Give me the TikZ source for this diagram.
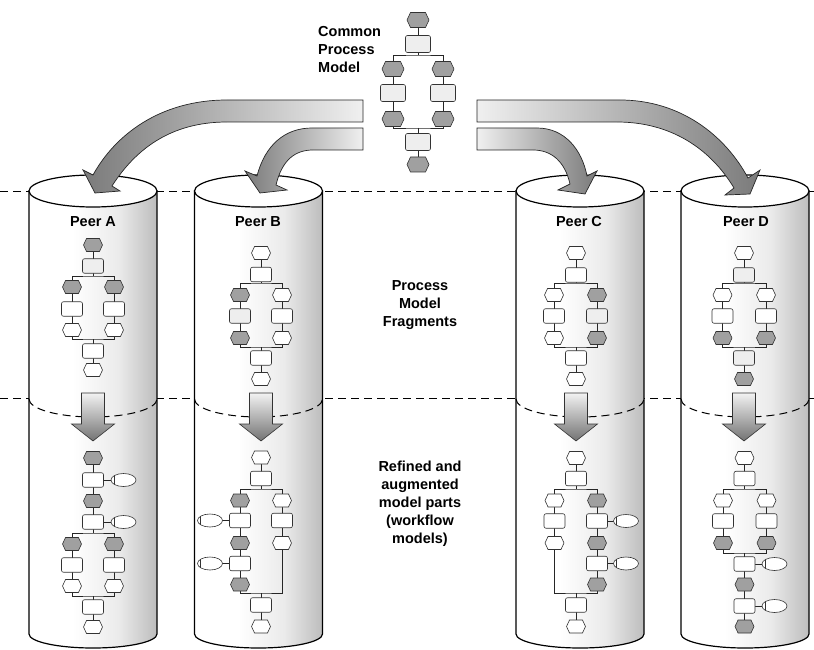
\documentclass[tikz,border=0pt]{standalone}
\usepackage{fontspec}
\setmainfont{Liberation Sans}
\usetikzlibrary{shapes.geometric,shapes.symbols}
\definecolor{darkf}{HTML}{A0A0A0}
\definecolor{lightf}{HTML}{EEEEEE}
\pgfdeclarehorizontalshading{cylshade}{100bp}{color(0bp)=(white); color(25bp)=(white);
  color(42bp)=(white); color(60bp)=(black!8); color(75bp)=(black!26); color(100bp)=(black!26)}
\pgfdeclarelayer{back}
\pgfdeclarelayer{links}
\pgfsetlayers{back,links,main}
\tikzset{
  hexbase/.style={signal, signal to=east and west, signal pointer angle=130,
    draw=black!80, line width=0.6pt, inner sep=0pt, minimum width=19pt, minimum height=13pt},
  hexD/.style={hexbase, fill=darkf},
  hexW/.style={hexbase, fill=white},
  recbase/.style={rectangle, rounded corners=2pt, draw=black!80, line width=0.6pt,
    inner sep=0pt, minimum width=21pt, minimum height=14.5pt},
  recL/.style={recbase, fill=lightf},
  recW/.style={recbase, fill=white},
  bigH/.style={minimum width=22pt, minimum height=15pt},
  bigR/.style={minimum width=25pt, minimum height=17pt},
  evt/.style={ellipse, draw=black!80, fill=white, line width=0.6pt, inner sep=0pt,
    minimum width=25pt, minimum height=13pt,
    path picture={\draw[black!80, line width=0.6pt]
      ([xshift=3pt]path picture bounding box.north west) --
      ([xshift=3pt]path picture bounding box.south west);}},
  conn/.style={draw=black!85, line width=0.7pt},
  lbl/.style={font=\fontsize{14.5}{18}\selectfont\bfseries, inner sep=0pt, align=center},
  carrow/.style={draw=black!85, line width=0.7pt},
  dash line/.style={draw=black, line width=1pt, dash pattern=on 8pt off 5pt}
}
\newcommand\mycyl[1]{%
  \path[shading=cylshade, draw=black, line width=1.2pt]
    (#1-64,191) -- (#1-64,634) arc[start angle=180, end angle=360, x radius=64pt, y radius=14pt]
    -- (#1+64,191) -- cycle;
  \path[fill=white, draw=black, line width=1.2pt] (#1,191) ellipse [x radius=64pt, y radius=16pt];
  \path[dash line] (#1-64,399) arc[start angle=180, end angle=360, x radius=64pt, y radius=18pt];
}
\newcommand\dnarrow[1]{%
  \path[draw=black!80, line width=0.6pt, top color=black!5, bottom color=black!55]
    (#1-11.5,393) -- (#1+11.5,393) -- (#1+11.5,424) -- (#1+21.5,424) -- (#1,441)
    -- (#1-21.5,424) -- (#1-11.5,424) -- cycle;
}
\newcommand\fragconn[6]{%
  \draw[conn] (#1.center) -- (#2);
  \draw[conn] (#3.center) |- (#2) -| (#4.center);
  \draw[conn] (#3.center) |- (#5) -| (#4.center);
  \draw[conn] (#5) -- (#6.center);
}
\begin{document}
\begin{tikzpicture}[x=1pt,y=-1pt]
\useasboundingbox (0,0) rectangle (814,650);

\begin{pgfonlayer}{back}
  \path[dash line] (0,191) -- (814,191);
  \path[dash line] (0,398) -- (814,398);
  \mycyl{93}
  \mycyl{258.5}
  \mycyl{580}
  \mycyl{745}
  \dnarrow{93}
  \dnarrow{261}
  \dnarrow{576}
  \dnarrow{744}
\end{pgfonlayer}

% ---------- Common process model ----------
\node[hexD,bigH] (m1) at (418,20) {};
\node[recL,bigR] (m2) at (418,44) {};
\node[hexD,bigH] (ml1) at (393,69) {};
\node[recL,bigR] (ml2) at (393,93) {};
\node[hexD,bigH] (ml3) at (393,119) {};
\node[hexD,bigH] (mr1) at (443,69) {};
\node[recL,bigR] (mr2) at (443,93) {};
\node[hexD,bigH] (mr3) at (443,119) {};
\node[recL,bigR] (m3) at (418,142) {};
\node[hexD,bigH] (m4) at (418,164.5) {};
\coordinate (ms) at (418,55);
\coordinate (mj) at (418,128);

% ---------- Peer A fragment ----------
\node[hexD] (a1) at (93,245) {};
\node[recL] (a2) at (93,266) {};
\node[hexD] (al1) at (72,287) {};
\node[recW] (al2) at (72,309) {};
\node[hexW] (al3) at (72,330) {};
\node[hexD] (ar1) at (114,287) {};
\node[recW] (ar2) at (114,309) {};
\node[hexW] (ar3) at (114,330) {};
\node[recW] (a3) at (93,351) {};
\node[hexW] (a4) at (93,370) {};
\coordinate (as) at (93,276);
\coordinate (aj) at (93,339);

% ---------- Peer B fragment ----------
\node[hexW] (b1) at (261,253) {};
\node[recW] (b2) at (261,274.5) {};
\node[hexD] (bl1) at (240,295) {};
\node[recL] (bl2) at (240,316) {};
\node[hexD] (bl3) at (240,338) {};
\node[hexW] (br1) at (282,295) {};
\node[recW] (br2) at (282,316) {};
\node[hexW] (br3) at (282,338) {};
\node[recW] (b3) at (261,358) {};
\node[hexW] (b4) at (261,379) {};
\coordinate (bs) at (261,283);
\coordinate (bj) at (261,347);

% ---------- Peer C fragment ----------
\node[hexW] (c1) at (576,253) {};
\node[recW] (c2) at (576,275) {};
\node[hexW] (cl1) at (554,295) {};
\node[recW] (cl2) at (554,316) {};
\node[hexW] (cl3) at (554,338) {};
\node[hexD] (cr1) at (597,295) {};
\node[recL] (cr2) at (597,316) {};
\node[hexD] (cr3) at (597,338) {};
\node[recW] (c3) at (576,358) {};
\node[hexW] (c4) at (576,379) {};
\coordinate (cs) at (576,283);
\coordinate (cj) at (576,347);

% ---------- Peer D fragment ----------
\node[hexW] (d1) at (744,253) {};
\node[recL] (d2) at (744,275) {};
\node[hexW] (dl1) at (722.5,295) {};
\node[recW] (dl2) at (722.5,316) {};
\node[hexD] (dl3) at (722.5,338) {};
\node[hexW] (dr1) at (766,295) {};
\node[recW] (dr2) at (766,316) {};
\node[hexD] (dr3) at (766,338) {};
\node[recL] (d3) at (744,358) {};
\node[hexD] (d4) at (744,379) {};
\coordinate (ds) at (744,283);
\coordinate (dj) at (744,347);

% ---------- Peer A refined ----------
\node[hexD] (A1) at (93,458) {};
\node[recW] (A2) at (93,480) {};
\node[evt] (E1) at (123.5,480) {};
\node[hexD] (A3) at (93,501) {};
\node[recW] (A4) at (93,522) {};
\node[evt] (E2) at (123.5,522) {};
\node[hexD] (Al1) at (72,544) {};
\node[recW] (Al2) at (72,565) {};
\node[hexW] (Al3) at (72,586) {};
\node[hexD] (Ar1) at (114,544) {};
\node[recW] (Ar2) at (114,565) {};
\node[hexW] (Ar3) at (114,586) {};
\node[recW] (A5) at (93,607) {};
\node[hexW] (A6) at (93,627) {};
\coordinate (As) at (93,533);
\coordinate (Aj) at (93,596);

% ---------- Peer B refined ----------
\node[hexW] (B1) at (261,457.5) {};
\node[recW] (B2) at (261,478.5) {};
\node[hexD] (Bl1) at (240,500.5) {};
\node[recW] (Bl2) at (240,520.5) {};
\node[evt] (E3) at (210,520.5) {};
\node[hexD] (Bl3) at (240,543) {};
\node[recW] (Bl4) at (240,563.5) {};
\node[evt] (E4) at (210,563.5) {};
\node[hexD] (Bl5) at (240,584.5) {};
\node[hexW] (Br1) at (282,500.5) {};
\node[recW] (Br2) at (282,520.5) {};
\node[hexW] (Br3) at (282,543) {};
\node[recW] (B3) at (261,605) {};
\node[hexW] (B4) at (261,626.5) {};
\coordinate (Bs) at (261,489);
\coordinate (Bj) at (261,593);

% ---------- Peer C refined ----------
\node[hexW] (C1) at (576,458) {};
\node[recW] (C2) at (576,478.5) {};
\node[hexW] (Cl1) at (554.5,500.5) {};
\node[recW] (Cl2) at (554.5,521) {};
\node[hexW] (Cl3) at (554.5,543) {};
\node[hexD] (Cr1) at (597,500.5) {};
\node[recW] (Cr2) at (597,521) {};
\node[evt] (E5) at (626,521) {};
\node[hexD] (Cr3) at (597,543) {};
\node[recW] (Cr4) at (597,563.5) {};
\node[evt] (E6) at (626,563.5) {};
\node[hexD] (Cr5) at (597,584.5) {};
\node[recW] (C3) at (576,605) {};
\node[hexW] (C4) at (576,626.5) {};
\coordinate (Cs) at (576,489);
\coordinate (Cj) at (576,593);

% ---------- Peer D refined ----------
\node[hexW] (D1) at (744.5,458) {};
\node[recW] (D2) at (744.5,478.5) {};
\node[hexW] (Dl1) at (723,500.5) {};
\node[recW] (Dl2) at (723,521) {};
\node[hexD] (Dl3) at (723,543) {};
\node[hexW] (Dr1) at (766.5,500.5) {};
\node[recW] (Dr2) at (766.5,521) {};
\node[hexD] (Dr3) at (766.5,543) {};
\node[recW] (D3) at (744.5,564) {};
\node[evt] (E7) at (774.5,564) {};
\node[hexD] (D4) at (744.5,584.5) {};
\node[recW] (D5) at (744.5,606) {};
\node[evt] (E8) at (774.5,606) {};
\node[hexD] (D6) at (744.5,626.5) {};
\coordinate (Ds) at (744.5,489);
\coordinate (Dj) at (744.5,553);

% ---------- connectors ----------
\begin{pgfonlayer}{links}
  \fragconn{m1}{ms}{ml1}{mr1}{mj}{m4}
  \fragconn{a1}{as}{al1}{ar1}{aj}{a4}
  \fragconn{b1}{bs}{bl1}{br1}{bj}{b4}
  \fragconn{c1}{cs}{cl1}{cr1}{cj}{c4}
  \fragconn{d1}{ds}{dl1}{dr1}{dj}{d4}
  \fragconn{A1}{As}{Al1}{Ar1}{Aj}{A6}
  \fragconn{B1}{Bs}{Bl1}{Br1}{Bj}{B4}
  \fragconn{C1}{Cs}{Cl1}{Cr1}{Cj}{C4}
  \fragconn{D1}{Ds}{Dl1}{Dr1}{Dj}{D6}
  \draw[conn] (A2.center) -- (E1.center);
  \draw[conn] (A4.center) -- (E2.center);
  \draw[conn] (Bl2.center) -- (E3.center);
  \draw[conn] (Bl4.center) -- (E4.center);
  \draw[conn] (Cr2.center) -- (E5.center);
  \draw[conn] (Cr4.center) -- (E6.center);
  \draw[conn] (D3.center) -- (E7.center);
  \draw[conn] (D5.center) -- (E8.center);
\end{pgfonlayer}

% ---------- labels ----------
\node[lbl, align=left, anchor=west] (cpm) at (318,49.5) {Common\\Process\\Model};
\node[lbl] (pA) at (93,222) {Peer A};
\node[lbl] (pB) at (258,222) {Peer B};
\node[lbl] (pC) at (579,222) {Peer C};
\node[lbl] (pD) at (746,222) {Peer D};
\node[lbl] (pmf) at (420,305) {Process\\Model\\Fragments};
\node[lbl] (ref) at (420,504) {Refined and\\augmented\\model parts\\(workflow\\models)};

% ---------- curved block arrows ----------
\path[carrow, left color=black!52, right color=black!6]
  (363,100) -- (227,100) .. controls (160,100) and (115,135) .. (93,175)
  -- (83,170) -- (95,193) -- (120,191) -- (112,186)
  .. controls (135,150) and (170,122) .. (227,122) -- (363,122) -- cycle;
\path[carrow, left color=black!52, right color=black!6]
  (363,128) -- (312,128) .. controls (285,128) and (265,145) .. (257,176)
  -- (245,171) -- (260,193) -- (287,190) -- (276,185)
  .. controls (282,160) and (295,150) .. (313,150) -- (363,150) -- cycle;
\path[carrow, left color=black!6, right color=black!52]
  (477,128) -- (537,128) .. controls (565,128) and (582,150) .. (587,176)
  -- (597,171) -- (585,194) -- (558,190) -- (570,184)
  .. controls (565,162) and (552,150) .. (533,150) -- (477,150) -- cycle;
\path[carrow, left color=black!6, right color=black!52]
  (477,100) -- (620,100) .. controls (680,100) and (725,135) .. (748,178)
  -- (760,170) -- (750,194) -- (725,195) -- (734,188)
  .. controls (710,148) and (670,122) .. (617,122) -- (477,122) -- cycle;
\end{tikzpicture}
\end{document}
